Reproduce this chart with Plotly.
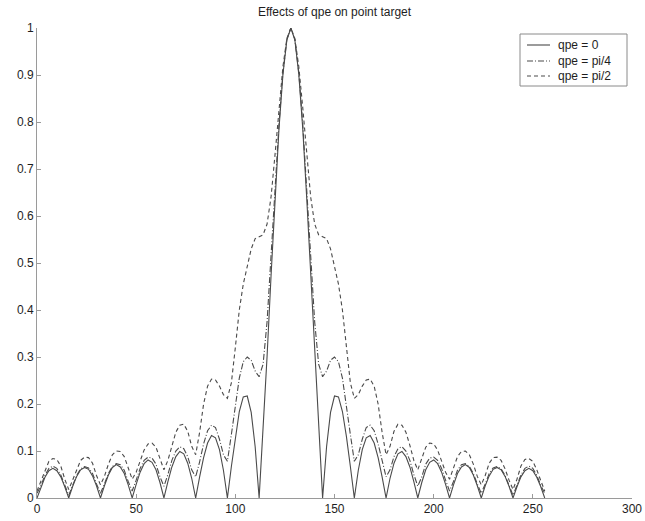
import plotly.graph_objects as go

# sample index (0..256, every 2nd sample)
x = list(range(0, 257, 2))

qpe_0 = [
    0.000, 0.024, 0.044, 0.058, 0.063, 0.058, 0.045, 0.024,
    0.000, 0.025, 0.046, 0.060, 0.065, 0.061, 0.047, 0.026,
    0.000, 0.026, 0.049, 0.065, 0.071, 0.066, 0.052, 0.028,
    0.000, 0.029, 0.055, 0.073, 0.081, 0.076, 0.060, 0.033,
    0.000, 0.035, 0.066, 0.088, 0.099, 0.094, 0.074, 0.042,
    0.000, 0.045, 0.086, 0.117, 0.133, 0.128, 0.103, 0.059,
    0.000, 0.067, 0.131, 0.184, 0.215, 0.217, 0.182, 0.109,
    0.000, 0.140, 0.301, 0.472, 0.638, 0.785, 0.901, 0.975,
    1.000, 0.975, 0.901, 0.785, 0.638, 0.472, 0.301, 0.140,
    0.000, 0.109, 0.182, 0.217, 0.215, 0.184, 0.131, 0.067,
    0.000, 0.059, 0.103, 0.128, 0.133, 0.117, 0.086, 0.045,
    0.000, 0.042, 0.074, 0.094, 0.099, 0.088, 0.066, 0.035,
    0.000, 0.033, 0.060, 0.076, 0.081, 0.073, 0.055, 0.029,
    0.000, 0.028, 0.052, 0.066, 0.071, 0.065, 0.049, 0.026,
    0.000, 0.026, 0.047, 0.061, 0.065, 0.060, 0.046, 0.025,
    0.000, 0.024, 0.045, 0.058, 0.063, 0.058, 0.044, 0.024,
    0.000,
]

qpe_pi4 = [
    0.010, 0.027, 0.048, 0.063, 0.068, 0.063, 0.049, 0.027,
    0.006, 0.027, 0.048, 0.062, 0.067, 0.064, 0.052, 0.030,
    0.010, 0.030, 0.052, 0.067, 0.073, 0.071, 0.059, 0.035,
    0.015, 0.038, 0.063, 0.080, 0.087, 0.085, 0.072, 0.045,
    0.025, 0.050, 0.080, 0.100, 0.109, 0.105, 0.088, 0.060,
    0.045, 0.077, 0.115, 0.143, 0.155, 0.150, 0.125, 0.092,
    0.078, 0.135, 0.200, 0.255, 0.290, 0.300, 0.293, 0.270,
    0.258, 0.285, 0.375, 0.505, 0.655, 0.795, 0.905, 0.976,
    1.000, 0.976, 0.905, 0.795, 0.655, 0.505, 0.375, 0.285,
    0.258, 0.270, 0.293, 0.300, 0.290, 0.255, 0.200, 0.135,
    0.078, 0.092, 0.125, 0.150, 0.155, 0.143, 0.115, 0.077,
    0.045, 0.060, 0.088, 0.105, 0.109, 0.100, 0.080, 0.050,
    0.025, 0.045, 0.072, 0.085, 0.087, 0.080, 0.063, 0.038,
    0.015, 0.035, 0.059, 0.071, 0.073, 0.067, 0.052, 0.030,
    0.010, 0.030, 0.052, 0.064, 0.067, 0.062, 0.048, 0.027,
    0.006, 0.027, 0.049, 0.063, 0.068, 0.063, 0.048, 0.027,
    0.010,
]

qpe_pi2 = [
    0.015, 0.037, 0.060, 0.078, 0.084, 0.082, 0.068, 0.040,
    0.018, 0.038, 0.062, 0.080, 0.087, 0.086, 0.074, 0.048,
    0.028, 0.046, 0.072, 0.092, 0.100, 0.099, 0.088, 0.062,
    0.040, 0.055, 0.080, 0.102, 0.115, 0.117, 0.108, 0.082,
    0.060, 0.080, 0.112, 0.140, 0.155, 0.157, 0.142, 0.110,
    0.092, 0.140, 0.200, 0.238, 0.253, 0.251, 0.238, 0.220,
    0.212, 0.245, 0.320, 0.400, 0.455, 0.495, 0.530, 0.552,
    0.556, 0.560, 0.583, 0.640, 0.730, 0.830, 0.918, 0.978,
    1.000, 0.978, 0.918, 0.830, 0.730, 0.640, 0.583, 0.560,
    0.556, 0.552, 0.530, 0.495, 0.455, 0.400, 0.320, 0.245,
    0.212, 0.220, 0.238, 0.251, 0.253, 0.238, 0.200, 0.140,
    0.092, 0.110, 0.142, 0.157, 0.155, 0.140, 0.112, 0.080,
    0.060, 0.082, 0.108, 0.117, 0.115, 0.102, 0.080, 0.055,
    0.040, 0.062, 0.088, 0.099, 0.100, 0.092, 0.072, 0.046,
    0.028, 0.048, 0.074, 0.086, 0.087, 0.080, 0.062, 0.038,
    0.018, 0.040, 0.068, 0.082, 0.084, 0.078, 0.060, 0.037,
    0.015,
]

series_names = ["qpe = 0", "qpe = pi/4", "qpe = pi/2"]

x_ticks = [0, 50, 100, 150, 200, 250, 300]
y_ticks = [0, 0.1, 0.2, 0.3, 0.4, 0.5, 0.6, 0.7, 0.8, 0.9, 1]
y_tick_labels = ["0", "0.1", "0.2", "0.3", "0.4", "0.5", "0.6", "0.7", "0.8", "0.9", "1"]

LINE = "#4a4a4a"
AXIS = "#9a9a9a"
TEXT = "#1e1e1e"
FONT = "Liberation Sans, Arial, Helvetica, sans-serif"
DASHES = ["solid", "6px,2px,1px,2px", "4px,3px"]

W, H = 645, 521
L, R, T, B = 37, 13, 28, 23
PW, PH = W - L - R, H - T - B


def px(xp):
    return (xp - L) / PW


def py(yp):
    return (H - B - yp) / PH


fig = go.Figure()
for vals, name, dash in zip([qpe_0, qpe_pi4, qpe_pi2], series_names, DASHES):
    fig.add_trace(go.Scatter(x=x, y=vals, mode="lines", name=name, showlegend=False,
                             line=dict(color=LINE, width=1.1, dash=dash)))

# legend box drawn in the MATLAB style
shapes = [dict(type="rect", xref="paper", yref="paper",
               x0=px(520), x1=px(627), y0=py(86), y1=py(34),
               line=dict(color="#8a8a8a", width=1), fillcolor="white", layer="above")]
annotations = []
entry_y = [45, 61, 76]
for name, dash, ey in zip(series_names, DASHES, entry_y):
    shapes.append(dict(type="line", xref="paper", yref="paper",
                       x0=px(527), x1=px(550), y0=py(ey), y1=py(ey),
                       line=dict(color=LINE, width=1.1, dash=dash), layer="above"))
    annotations.append(dict(xref="paper", yref="paper", x=px(556), y=py(ey),
                            xanchor="left", yanchor="middle", showarrow=False,
                            text=name, font=dict(family=FONT, size=12, color=TEXT)))

fig.update_layout(
    template="none",
    width=W, height=H,
    margin=dict(l=L, r=R, t=T, b=B, pad=0),
    paper_bgcolor="white", plot_bgcolor="white",
    font=dict(family=FONT, size=12, color=TEXT),
    title=dict(text="Effects of qpe on point target", xref="paper", x=0.5,
               xanchor="center", yref="container", y=1 - 12 / H, yanchor="middle",
               font=dict(family=FONT, size=12, color=TEXT)),
    showlegend=False,
    shapes=shapes,
    annotations=annotations,
)
fig.update_xaxes(range=[0, 300], tickvals=x_ticks, ticks="inside", ticklen=4,
                 tickcolor=AXIS, tickwidth=1, showline=True, linecolor=AXIS, linewidth=1,
                 showgrid=False, zeroline=False, mirror=False, automargin=False,
                 tickfont=dict(family=FONT, size=12, color=TEXT))
fig.update_yaxes(range=[0, 1], tickvals=y_ticks, ticktext=y_tick_labels,
                 ticks="inside", ticklen=4, tickcolor=AXIS, tickwidth=1, showline=True,
                 linecolor=AXIS, linewidth=1, showgrid=False, zeroline=False,
                 mirror=False, automargin=False,
                 tickfont=dict(family=FONT, size=12, color=TEXT))

fig.write_html("out.html", config={"displayModeBar": False},
               post_script="document.body.style.margin='0';")
